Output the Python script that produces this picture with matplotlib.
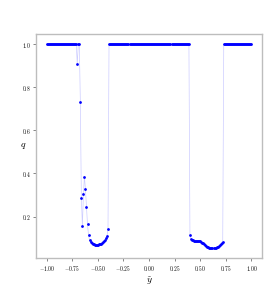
"""
q against y-tilde — sampled profile with two low-q wells.
"""

import numpy as np
import matplotlib
matplotlib.use("Agg")
import matplotlib.pyplot as plt

# ------------------------------------------------------------------
# Data
# ------------------------------------------------------------------
y_tilde = np.round(np.linspace(-1.0, 1.0, 201), 2)   # sample grid, step 0.01

q_left_plateau = [1.0] * 30                      # -1.00 .. -0.71
q_left_break = [0.91, 1.0, 1.0, 0.734]           # -0.70 .. -0.67
q_left_well = [0.288, 0.154, 0.304, 0.386, 0.326, 0.242, 0.163, 0.112, 0.090,
               0.082, 0.077, 0.073, 0.071, 0.069, 0.068, 0.068, 0.069, 0.070,
               0.072, 0.074, 0.077, 0.080, 0.085, 0.091, 0.099, 0.108, 0.140]
q_mid_plateau = [1.0] * 79                       # -0.39 .. 0.39
q_right_well = [0.115, 0.096, 0.091, 0.089, 0.088, 0.087, 0.086, 0.086, 0.085,
                0.085, 0.084, 0.082, 0.079, 0.075, 0.071, 0.067, 0.063, 0.060,
                0.057, 0.055, 0.054, 0.053, 0.053, 0.053, 0.054, 0.055, 0.057,
                0.059, 0.062, 0.066, 0.070, 0.075, 0.080]
q_right_plateau = [1.0] * 28                     # 0.73 .. 1.00

q = np.array(q_left_plateau + q_left_break + q_left_well
             + q_mid_plateau + q_right_well + q_right_plateau)

x_ticks = [-1.0, -0.75, -0.5, -0.25, 0.0, 0.25, 0.5, 0.75, 1.0]
y_ticks = [0.2, 0.4, 0.6, 0.8, 1.0]

# ------------------------------------------------------------------
# Style
# ------------------------------------------------------------------
_BLUE = "#0000ff"
_SPINE = "#bdbdbd"

plt.rcParams["font.family"] = "serif"
plt.rcParams["mathtext.fontset"] = "cm"

# ------------------------------------------------------------------
# Figure
# ------------------------------------------------------------------
fig = plt.figure(figsize=(2.76, 2.91), dpi=100)
ax = fig.add_axes([0.1315, 0.1124, 0.8165, 0.7697])

ax.plot(y_tilde, q, "-", color=_BLUE, lw=0.5, alpha=0.2, zorder=2)
ax.plot(y_tilde, q, "o", color=_BLUE, markersize=2.0, markeredgewidth=0, zorder=3)

ax.set_xticks(x_ticks)
ax.set_yticks(y_ticks)
ax.set_xticklabels([f"${v:.2f}$" for v in x_ticks])
ax.set_yticklabels([f"${v:.1f}$" for v in y_ticks])
ax.tick_params(labelsize=4, length=2, width=0.5, color="#555555", pad=2)

for sp in ax.spines.values():
    sp.set_color(_SPINE)
    sp.set_linewidth(1.0)

ax.set_xlabel(r"$\tilde{y}$", fontsize=7, labelpad=2)
ax.set_ylabel(r"$q$", fontsize=7, rotation=0, va="center", ha="center")
ax.yaxis.set_label_coords(-0.06, 0.5)

fig.savefig("out.png", dpi=100)
